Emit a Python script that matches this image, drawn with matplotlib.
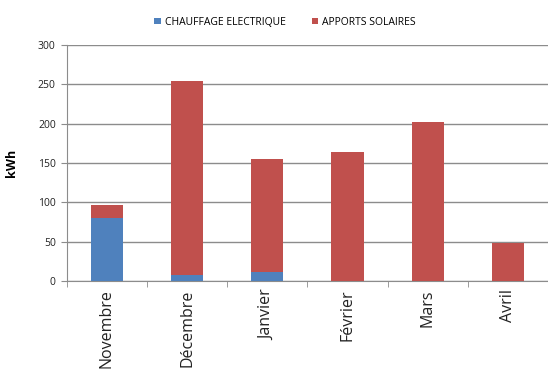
import numpy as np
import matplotlib.pyplot as plt

months = ["Novembre", "Décembre", "Janvier", "Février", "Mars", "Avril"]
chauffage = [80, 7, 11, 0, 0, 0]
total = [96, 254, 155, 164, 202, 48]
solaire = [t - c for t, c in zip(total, chauffage)]

blue = "#4F81BD"
red = "#C0504D"

plt.rcParams["font.family"] = ["Open Sans", "DejaVu Sans"]

fig = plt.figure(figsize=(5.48, 3.72), dpi=100)
ax = fig.add_axes([0.122, 0.245, 0.878, 0.634])

x = np.arange(len(months))
ax.bar(x, chauffage, width=0.4, color=blue, label="CHAUFFAGE ELECTRIQUE", zorder=3)
ax.bar(x, solaire, width=0.4, bottom=chauffage, color=red, label="APPORTS SOLAIRES", zorder=3)

ax.set_xlim(-0.5, len(months) - 0.5)
ax.set_ylim(0, 300)
ax.set_yticks(range(0, 301, 50))
ax.yaxis.grid(True, color="#8c8c8c", linewidth=1, zorder=0)

ax.set_xticks(x)
ax.set_xticklabels(months, rotation=90, fontsize=11.5, color="#222222")
ax.set_xticks(np.arange(-0.5, len(months) + 0.5, 1), minor=True)
ax.tick_params(axis="x", which="major", length=0, pad=6)
ax.tick_params(axis="x", which="minor", length=4, color="#8c8c8c", direction="out")
ax.tick_params(axis="y", length=4, color="#8c8c8c", labelsize=7.5, pad=4,
               labelcolor="#222222")

for side in ["top", "right"]:
    ax.spines[side].set_visible(False)
for side in ["left", "bottom"]:
    ax.spines[side].set_color("#8c8c8c")

ax.set_ylabel("kWh", fontweight="bold", fontsize=9, labelpad=14)

fig.legend(loc="center", bbox_to_anchor=(0.52, 0.94), ncol=2, frameon=False,
           fontsize=7.5, handlelength=0.6, handleheight=0.6, columnspacing=2.5,
           handletextpad=0.4)

fig.savefig("out.png", dpi=100)
